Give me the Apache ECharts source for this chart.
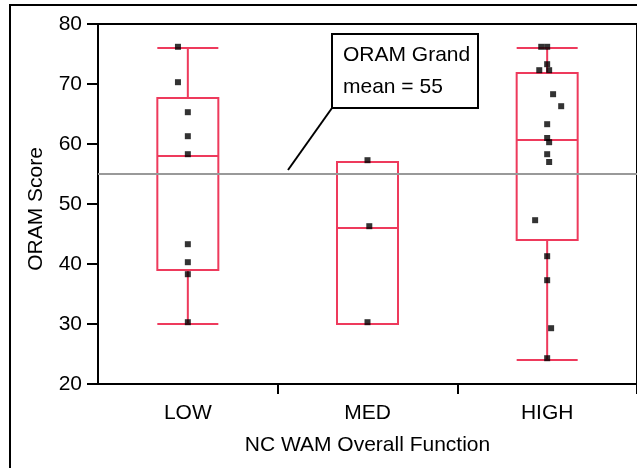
<!DOCTYPE html>
<html>
<head>
<meta charset="utf-8">
<script src="https://cdn.jsdelivr.net/npm/echarts@6/dist/echarts.min.js"></script>
<style>
  html, body { margin: 0; padding: 0; background: #fff; }
  #chart { width: 637px; height: 468px; }
</style>
</head>
<body>
<div id="chart"></div>
<script>
// ---- data ----
const categories = ['LOW', 'MED', 'HIGH'];
const yTicks = [20, 30, 40, 50, 60, 70, 80];
// [min, Q1, median, Q3, max]
const lowBox = [30, 39, 58, 67.67, 76];
const medBox = [30, 30, 46, 57, 57];
const highBox = [24, 44, 60.67, 71.83, 76];
const lowScores = [76.2, 70.3, 65.3, 61.3, 58.3, 43.3, 40.3, 38.3, 30.3];
const lowJitter = [-0.055, -0.055, 0, 0, 0, 0, 0, 0, 0];
const medScores = [57.3, 46.3, 30.3];
const medJitter = [0, 0.01, 0];
const highScores = [76.2, 76.2, 73.3, 72.3, 72.3, 68.3, 66.3, 63.3, 61, 60.3, 58.3, 57, 47.3, 41.3, 37.3, 29.3, 24.3];
const highJitter = [-0.033, 0, 0, -0.044, 0.011, 0.033, 0.078, 0, 0, 0.011, 0, 0.011, -0.067, 0, 0, 0.022, 0];
const grandMean = 55;

const FONT = 'Liberation Sans, Arial, Helvetica, sans-serif';
const FS = 21;
const BOX_COLOR = '#ee3a5c';

function pts(scores, jitter, idx) {
  return scores.map((v, i) => [idx + 0.5 + jitter[i], v]);
}
const scatterData = [].concat(
  pts(lowScores, lowJitter, 0),
  pts(medScores, medJitter, 1),
  pts(highScores, highJitter, 2)
);

const chart = echarts.init(document.getElementById('chart'), null, { renderer: 'canvas' });
chart.setOption({
  animation: false,
  backgroundColor: '#fff',
  textStyle: { fontFamily: FONT },
  grid: {
    left: 98, right: -1, top: 24, bottom: 84,
    show: true, borderColor: '#000', borderWidth: 2, backgroundColor: 'transparent'
  },
  xAxis: [
    {
      type: 'category',
      data: categories,
      boundaryGap: true,
      axisLine: { lineStyle: { color: '#000', width: 2 } },
      axisTick: { show: true, length: 10, lineStyle: { color: '#000', width: 2 },
                  interval: function (index) { return index !== 0; } },
      axisLabel: { color: '#000', fontSize: FS, fontFamily: FONT, margin: 19 },
      name: 'NC WAM Overall Function',
      nameLocation: 'middle',
      nameGap: 51,
      nameTextStyle: { color: '#000', fontSize: FS, fontFamily: FONT },
      splitLine: { show: false }
    },
    {
      type: 'value', min: 0, max: 3, show: false, gridIndex: 0
    }
  ],
  yAxis: {
    type: 'value',
    min: yTicks[0], max: yTicks[yTicks.length - 1], interval: 10,
    axisLine: { show: true, lineStyle: { color: '#000', width: 2 } },
    axisTick: { show: true, length: 11, lineStyle: { color: '#000', width: 2 } },
    axisLabel: { color: '#000', fontSize: FS, fontFamily: FONT, margin: 16 },
    splitLine: { show: false },
    name: 'ORAM Score',
    nameLocation: 'middle',
    nameGap: 51,
    nameRotate: 90,
    nameTextStyle: { color: '#000', fontSize: FS, fontFamily: FONT, padding: [0, 10, 0, 0] }
  },
  series: [
    {
      type: 'boxplot',
      xAxisIndex: 0,
      data: [lowBox, medBox, highBox],
      boxWidth: [61, 61],
      itemStyle: { color: 'rgba(0,0,0,0)', borderColor: BOX_COLOR, borderWidth: 2 },
      emphasis: { disabled: true },
      silent: true,
      markLine: {
        silent: true,
        symbol: ['none', 'none'],
        label: { show: false },
        lineStyle: { color: '#999', width: 2, type: 'solid' },
        data: [{ yAxis: grandMean }]
      }
    },
    {
      type: 'scatter',
      xAxisIndex: 1,
      data: scatterData,
      symbol: 'rect',
      symbolSize: 6,
      itemStyle: { color: '#000' },
      silent: true,
      z: 5
    }
  ],
  graphic: [
    {
      type: 'rect', silent: true,
      shape: { x: 10, y: 5, width: 700, height: 600 },
      style: { fill: 'none', stroke: '#000', lineWidth: 2 }, z: 100
    },
    {
      type: 'line', silent: true,
      shape: { x1: 332, y1: 108, x2: 288, y2: 170 },
      style: { stroke: '#000', lineWidth: 2 }, z: 100
    },
    {
      type: 'rect', silent: true,
      shape: { x: 332, y: 34, width: 146, height: 74 },
      style: { fill: '#fff', stroke: '#000', lineWidth: 2 }, z: 100
    },
    {
      type: 'text', silent: true, z: 101,
      style: { x: 343, y: 55, text: 'ORAM Grand', fill: '#000', font: FS + 'px ' + FONT, verticalAlign: 'middle' }
    },
    {
      type: 'text', silent: true, z: 101,
      style: { x: 343, y: 87, text: 'mean = 55', fill: '#000', font: FS + 'px ' + FONT, verticalAlign: 'middle' }
    }
  ]
});
</script>
</body>
</html>
